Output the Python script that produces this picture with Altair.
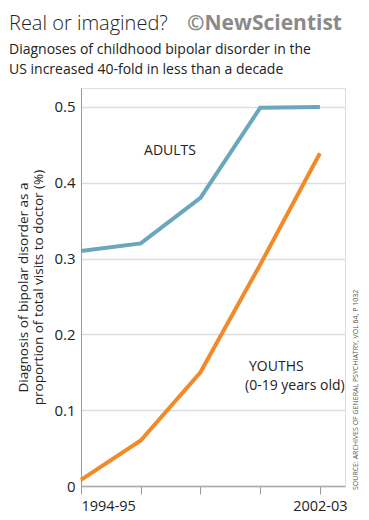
import altair as alt
import pandas as pd

periods = ["1994-95", "", "", "", "2002-03"]
idx = [0, 1, 2, 3, 4]
adults = [0.31, 0.32, 0.38, 0.499, 0.50]
youths = [0.008, 0.06, 0.15, 0.292, 0.439]

df = pd.DataFrame({
    "i": idx * 2,
    "v": adults + youths,
    "s": ["Adults"] * 5 + ["Youths"] * 5,
})

W, H = 264, 398
FONT = "Open Sans"

x = alt.X("i:Q", scale=alt.Scale(domain=[0, 4.42], nice=False),
          axis=alt.Axis(values=idx, title=None, grid=False,
                        labelExpr="datum.value==0 ? '1994-95' : (datum.value==4 ? '2002-03' : '')",
                        labelFont=FONT, labelFontSize=14.5, labelColor="#222",
                        labelPadding=5, tickSize=8, tickColor="#999",
                        domainColor="#aaa", domainWidth=1.5))
y = alt.Y("v:Q", scale=alt.Scale(domain=[0, 0.525], nice=False),
          axis=alt.Axis(values=[0, 0.1, 0.2, 0.3, 0.4, 0.5],
                        labelExpr="datum.value==0 ? '0' : format(datum.value, '.1f')",
                        title=["Diagnosis of bipolar disorder as a", "proportion of total visits to doctor (%)"],
                        titleFont=FONT, titleFontSize=13.5, titleFontWeight="normal",
                        titleColor="#222", titlePadding=8,
                        labelFont=FONT, labelFontSize=15, labelColor="#222",
                        labelPadding=6, ticks=False, domainColor="#999",
                        gridColor="#bbb", gridDash=[1, 1], gridWidth=1.5))

lines = alt.Chart(df).mark_line(strokeWidth=4, strokeCap="butt").encode(
    x=x, y=y,
    color=alt.Color("s:N", scale=alt.Scale(domain=["Adults", "Youths"],
                                             range=["#6aa6bd", "#f28a2a"]), legend=None),
)

def txt(text, px, py, size, **kw):
    return alt.Chart(pd.DataFrame({"t": [text]})).mark_text(
        font=FONT, fontSize=size, **kw
    ).encode(x=alt.value(px), y=alt.value(py), text="t:N")

ox, oy = 81, 88
layers = [
    lines,
    txt("Real or imagined?", 9 - ox, 30 - oy, 20, align="left", baseline="alphabetic",
        fontWeight=300, color="#222"),
    txt("©NewScientist", 187 - ox, 30 - oy, 21, align="left", baseline="alphabetic",
        fontWeight="bold", color="#8a8a8a"),
    txt("Diagnoses of childhood bipolar disorder in the", 9 - ox, 54 - oy, 14,
        align="left", baseline="alphabetic", color="#222"),
    txt("US increased 40-fold in less than a decade", 9 - ox, 74 - oy, 14,
        align="left", baseline="alphabetic", color="#222"),
    txt("ADULTS", 170 - ox, 151 - oy, 14, align="center", baseline="middle", color="#222"),
    txt("YOUTHS", 249 - ox, 367 - oy, 14, align="left", baseline="middle", color="#222"),
    txt("(0-19 years old)", 245 - ox, 386 - oy, 14, align="left", baseline="middle", color="#222"),
    txt("SOURCE: ARCHIVES OF GENERAL PSYCHIATRY, VOL 64, P 1032", 356 - ox, 490 - oy, 7,
        align="left", baseline="middle", angle=270, color="#555"),
]

chart = alt.layer(*layers).properties(
    width=W, height=H,
    autosize=alt.AutoSizeParams(type="none"),
    padding={"left": 73, "top": 80, "right": 16, "bottom": 34},
).configure_view(stroke=None).configure(background="white")

chart.save("out.html", embed_options={"renderer": "svg", "actions": False})
